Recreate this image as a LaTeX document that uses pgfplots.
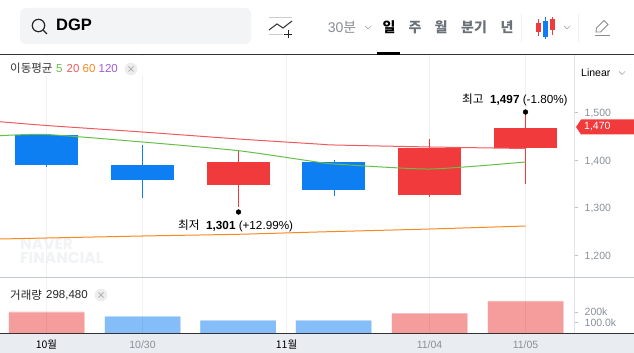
\documentclass[border=0pt]{standalone}
\usepackage{fontspec}
\usepackage{pgfplots}
\pgfplotsset{compat=1.18}
\setmainfont{Liberation Sans}
\newfontfamily\kr{Noto Sans CJK KR}
\newfontfamily\pop{Poppins}
\definecolor{cred}{HTML}{F03A3C}
\definecolor{cblue}{HTML}{0D7FF2}
\definecolor{vred}{HTML}{F59C9C}
\definecolor{vredt}{HTML}{F7C6C6}
\definecolor{vblue}{HTML}{85BDF8}
\definecolor{vbluet}{HTML}{BBDBFB}
\definecolor{magreen}{HTML}{66BF4A}
\definecolor{mared}{HTML}{EE5B5E}
\definecolor{maorange}{HTML}{F58A1F}
\definecolor{mapurple}{HTML}{A25CD0}
\definecolor{gridc}{HTML}{EEF0F4}
\definecolor{greyt}{HTML}{8B9099}
\definecolor{headt}{HTML}{6B7178}
\definecolor{band}{HTML}{E9ECF1}
\definecolor{wm}{HTML}{F2F3F5}
\definecolor{sep}{HTML}{C5CAD0}
\definecolor{box}{HTML}{F3F4F6}
\newcommand{\fs}[1]{\fontsize{#1}{#1}\selectfont}
\pgfplotsset{
 panel/.style={scale only axis, width=574.5pt, xmin=0, xmax=574.5, clip=true,
   axis x line*=bottom, axis y line*=right,
   x axis line style={draw=none}, y axis line style={draw=none},
   xtick={46.5,142.5,286.5,429.5,525.5},
   xmajorgrids, major grid style={draw=gridc, line width=0.8pt},
   xtick style={draw=none},
   ytick style={draw=gridc!80!black, line width=0.5pt},
   tick align=outside, major tick length=3pt,
   yticklabel style={font=\fs{10.5}, text=greyt, anchor=west, xshift=7pt,inner sep=0pt},
   /pgf/number format/assume math mode=true,
   /pgf/number format/1000 sep={,},
 },
 body/.style={draw=none, fill=#1},
 wick/.style={draw=#1, line width=1pt},
 ma/.style={draw=#1, line width=1pt, smooth, tension=0.35, no marks},
}
\begin{document}
\begin{tikzpicture}
\useasboundingbox (0,0) rectangle (634pt,353pt);
% ---------- background user interface
\begin{scope}[x=1pt,y=-1pt,yshift=353pt]
\fill[white] (0,0) rectangle (634,353);
\fill[band] (0,333) rectangle (634,353);
\node[anchor=west,inner sep=0pt,font=\pop\fs{15.5}\bfseries,text=wm] at (20,244) {NAVER};
\node[anchor=west,inner sep=0pt,font=\pop\fs{15.5}\bfseries,text=wm] at (20,258) {FINANCIAL};
\end{scope}
% ---------- price panel
\begin{axis}[panel, at={(0pt,75pt)}, anchor=south west, height=223pt,
  ymin=1151.58, ymax=1621.05, ytick={1200,1300,1400,1500}, xticklabels={},
  yticklabel style={yshift=-1.5pt}]
 % candle 1 (blue)
 \addplot[wick=cblue] coordinates {(46.5,1452.6)(46.5,1385.3)};
 \addplot[body=cblue] coordinates {(15,1452.6)(78,1452.6)(78,1389.5)(15,1389.5)} --cycle;
 % candle 2 (blue)
 \addplot[wick=cblue] coordinates {(142.5,1431.6)(142.5,1320)};
 \addplot[body=cblue] coordinates {(111,1389.5)(174,1389.5)(174,1357.9)(111,1357.9)} --cycle;
 % candle 3 (red)
 \addplot[wick=cred] coordinates {(238.5,1420)(238.5,1301)};
 \addplot[body=cred] coordinates {(207,1395.8)(270,1395.8)(270,1347.4)(207,1347.4)} --cycle;
 % candle 4 (blue)
 \addplot[wick=cblue] coordinates {(334,1400)(334,1324.2)};
 \addplot[body=cblue] coordinates {(302,1395.8)(365,1395.8)(365,1336.8)(302,1336.8)} --cycle;
 % candle 5 (red)
 \addplot[wick=cred] coordinates {(429.5,1444.2)(429.5,1322.1)};
 \addplot[body=cred] coordinates {(398,1425.3)(461,1425.3)(461,1326.3)(398,1326.3)} --cycle;
 % candle 6 (red)
 \addplot[wick=cred] coordinates {(525.5,1501)(525.5,1349.5)};
 \addplot[body=cred] coordinates {(494,1468)(557,1468)(557,1425.3)(494,1425.3)} --cycle;
 % moving averages
 \addplot[ma=mared] coordinates {(0,1480.6)(46.5,1472.6)(142.5,1458.9)(238.5,1444.2)(317,1433.7)(334,1431.6)(429.5,1427.4)(525.5,1424.2)};
 \addplot[ma=magreen] coordinates {(0,1451.2)(46.5,1453.7)(142.5,1437.9)(238.5,1419.6)(317,1395.8)(334,1391.6)(429.5,1381)(525.5,1395.8)};
 \addplot[ma=maorange] coordinates {(0,1233.7)(142.5,1240)(238.5,1243.6)(317,1248.4)(429.5,1254.7)(525.5,1261)};
 % high and low markers
 \addplot[only marks, mark=*, mark size=2.4pt, mark options={fill=black,draw=black}] coordinates {(525.5,1501)(238.5,1290.5)};
\end{axis}
% ---------- volume panel
\begin{axis}[panel, at={(0pt,20pt)}, anchor=south west, height=55pt,
  ymin=0, ymax=523810, ytick={100000,200000}, yticklabels={100.0k,200k},
  axis on top, bar shift=0pt, bar width=75.5pt,
  scaled y ticks=false,
  xticklabels={\textcolor{black}{\kr 10월},10/30,\textcolor{black}{\kr 11월},11/04,11/05},
  xticklabel style={font=\fs{10.5}, text=greyt, inner sep=0pt, anchor=center, yshift=-9pt},
  major grid style={draw=black, opacity=0.05, line width=0.8pt}]
 \addplot[ybar, fill=vredt, draw=none] coordinates {(46.5,204000)(429.5,190000)(525.5,307000)};
 \addplot[ybar, fill=vbluet, draw=none] coordinates {(142.5,161000)(238,123000)(333.5,123000)};
 \addplot[ybar, fill=vred, draw=none] coordinates {(46.5,195000)(429.5,181000)(525.5,298480)};
 \addplot[ybar, fill=vblue, draw=none] coordinates {(142.5,152000)(238,114000)(333.5,114000)};
\end{axis}
% ---------- foreground user interface
\begin{scope}[x=1pt,y=-1pt,yshift=353pt]
% panel rules
\fill[white] (0,56) rectangle (150,76);
\draw[gridc!95!black,line width=0.8pt] (574.5,55) -- (574.5,333);
\draw[black!80,line width=1pt] (0,55) -- (634,55);
\draw[sep,line width=1pt] (0,278) -- (634,278);
\draw[black!80,line width=1pt] (0,333.5) -- (634,333.5);
% search box
\fill[box,rounded corners=6pt] (20,8) rectangle (251,44);
\draw[black!85,line width=1.2pt] (38.5,25.5) circle (6.2);
\draw[black!85,line width=1.4pt] (43,30) -- (47,34);
\node[anchor=west,inner sep=0pt,font=\fs{16.5}\bfseries] at (56,25) {DGP};
% indicator icon
\draw[black!20,line width=1pt] (269,17.5) -- (292,17.5);
\draw[black!20,line width=1pt] (269,34.5) -- (283,34.5);
\draw[black!75,line width=1.1pt] (269,30) -- (277,24) -- (283,28) -- (292,21);
\draw[black!85,line width=1pt] (284,34.5) -- (292,34.5) (288,30.5) -- (288,38);
% period tabs
\node[anchor=center,inner sep=0pt,font=\fs{14},text=headt!80] at (342,27.5) {30{\kr 분}};
\draw[black!35,line width=0.7pt] (365,26) -- (368,29) -- (371,26);
\node[inner sep=0pt,font=\kr\fs{14}\bfseries] at (389,27.5) {일};
\node[inner sep=0pt,font=\kr\fs{14}\bfseries,text=headt] at (415,27.5) {주};
\node[inner sep=0pt,font=\kr\fs{14}\bfseries,text=headt] at (441,27.5) {월};
\node[inner sep=0pt,font=\kr\fs{14}\bfseries,text=headt] at (474,27.5) {분기};
\node[inner sep=0pt,font=\kr\fs{14}\bfseries,text=headt] at (507,27.5) {년};
\fill[black] (377,52) rectangle (400,55);
\draw[gridc,line width=0.8pt] (521.5,14) -- (521.5,42);
\draw[gridc,line width=0.8pt] (578.5,14) -- (578.5,42);
% candle icon
\draw[cred,line width=1pt] (538.5,19) -- (538.5,36) (552.5,17) -- (552.5,35);
\fill[cred] (536,23) rectangle (541,32);
\fill[cred] (550,19) rectangle (555,30);
\draw[cblue,line width=1pt] (545.5,17) -- (545.5,39);
\fill[cblue] (543,21) rectangle (548,37);
\draw[black!35,line width=0.7pt] (564,26) -- (567,29) -- (570,26);
% pencil icon
\draw[black!45,line width=0.9pt] (595,35.5) -- (610,35.5);
\draw[black!45,line width=0.9pt] (596,32) -- (596.5,28) -- (604,20.5) -- (608,24.5) -- (600.5,32) -- cycle;
% legends
\node[anchor=west,inner sep=0pt,font=\kr\fs{11.5},text=black!80] at (10,68.5) {이동평균};
\node[anchor=west,inner sep=0pt,font=\fs{11.5},text=magreen] at (56,68.5) {5};
\node[anchor=west,inner sep=0pt,font=\fs{11.5},text=mared] at (66.5,68.5) {20};
\node[anchor=west,inner sep=0pt,font=\fs{11.5},text=maorange] at (82.5,68.5) {60};
\node[anchor=west,inner sep=0pt,font=\fs{11.5},text=mapurple] at (98.5,68.5) {120};
\fill[black!7] (131,69) circle (6.3);
\draw[black!30,line width=0.9pt] (128.5,66.5) -- (133.5,71.5) (128.5,71.5) -- (133.5,66.5);
\node[anchor=west,inner sep=0pt,font=\kr\fs{11.5},text=black!85] at (10,295) {거래량};
\node[anchor=west,inner sep=0pt,font=\fs{11.5},text=black!85] at (46,295) {298,480};
\fill[black!7] (101,295) circle (6.3);
\draw[black!30,line width=0.9pt] (98.5,292.5) -- (103.5,297.5) (98.5,297.5) -- (103.5,292.5);
% scale selector
\node[anchor=west,inner sep=0pt,font=\fs{10.5}] at (581,73) {Linear};
\draw[black!35,line width=0.7pt] (619,71.5) -- (622,74.5) -- (625,71.5);
% current price tag
\fill[cred] (576,127) -- (581,119.5) -- (634,119.5) -- (634,134.5) -- (581,134.5) -- cycle;
\node[anchor=west,inner sep=0pt,font=\fs{10.5},text=white] at (584,127) {1,470};
% annotations
\node[anchor=west,inner sep=0pt,font=\fs{11.7}] at (462,99.5) {{\kr 최고}\ \ {\bfseries 1,497} (-1.80\%)};
\node[anchor=west,inner sep=0pt,font=\fs{11.7}] at (178,226) {{\kr 최저}\ \ {\bfseries 1,301} (+12.99\%)};
\end{scope}
\end{tikzpicture}
\end{document}
